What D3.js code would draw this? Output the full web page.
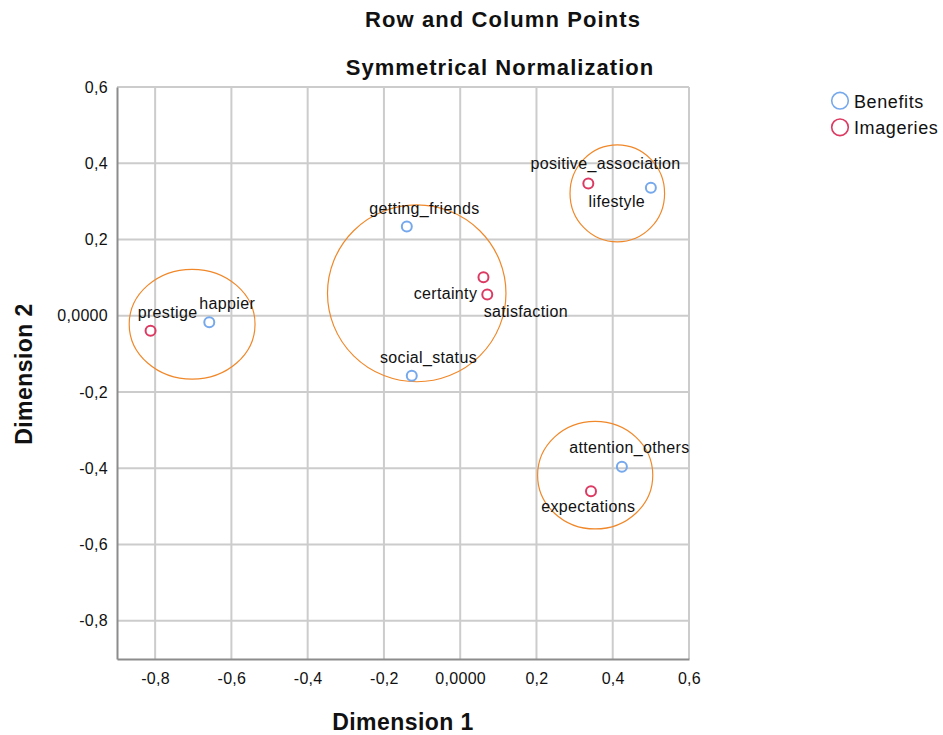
<!DOCTYPE html>
<html>
<head>
<meta charset="utf-8">
<script src="https://cdn.jsdelivr.net/npm/d3@7/dist/d3.min.js"></script>
<style>
  body { margin: 0; background: #fff; }
  text { font-family: "Liberation Sans", Arial, sans-serif; fill: #111; }
</style>
</head>
<body>
<div id="chart"></div>
<script>
// Row points (Benefits)
var benefitNames = ["happier", "getting_friends", "social_status", "attention_others", "lifestyle"];
var benefitX = [-0.658, -0.140, -0.127, 0.424, 0.500];
var benefitY = [-0.017, 0.234, -0.157, -0.396, 0.336];

// Column points (Imageries)
var imageryNames = ["prestige", "certainty", "satisfaction", "positive_association", "expectations"];
var imageryX = [-0.812, 0.061, 0.071, 0.336, 0.343];
var imageryY = [-0.039, 0.101, 0.056, 0.347, -0.460];

// Orange cluster rings drawn over the map
var ringX = [-0.703, -0.114, 0.412, 0.354];
var ringY = [-0.022, 0.059, 0.321, -0.418];
var ringRx = [0.165, 0.234, 0.124, 0.151];
var ringRy = [0.144, 0.232, 0.127, 0.141];

// Tick values on both axes
var tickValues = [-0.8, -0.6, -0.4, -0.2, 0, 0.2, 0.4, 0.6];

// Label offsets in pixels (dx to text centre, dy to baseline)
var benefitLabelOffsets = [[18, -13], [17.6, -12.7], [16.7, -13], [7.5, -13.4], [-34, 19]];
var imageryLabelOffsets = [[17, -13], [-38, 22], [38.5, 22.4], [17.2, -14], [-2.7, 20.7]];

function init() {
    var w = 943;
    var h = 735;
    var blue = "#76a8ec";
    var red = "#dc3a62";

    var svg = d3.select("#chart")
                .append("svg")
                .attr("width", w)
                .attr("height", h);

    // Scales: both dimensions go from -0.9 to 0.6
    var x = d3.scaleLinear().domain([-0.9, 0.6]).range([117, 689]);
    var y = d3.scaleLinear().domain([-0.9, 0.6]).range([659, 87]);

    function fmt(v) {
        if (Math.abs(v) < 1e-9) return "0,0000";
        return v.toFixed(1).replace(".", ",");
    }

    // Grid lines
    var grid = svg.append("g");
    grid.selectAll("line.vx")
        .data(tickValues)
        .enter()
        .append("line")
        .attr("x1", function(d) { return x(d); })
        .attr("x2", function(d) { return x(d); })
        .attr("y1", y(-0.9))
        .attr("y2", y(0.6))
        .attr("stroke", "#cccccc")
        .attr("stroke-width", 2);
    grid.selectAll("line.hy")
        .data(tickValues)
        .enter()
        .append("line")
        .attr("y1", function(d) { return y(d); })
        .attr("y2", function(d) { return y(d); })
        .attr("x1", x(-0.9))
        .attr("x2", x(0.6))
        .attr("stroke", "#cccccc")
        .attr("stroke-width", 2);

    // Axes with hidden ticks, labels only
    var xAxis = d3.axisBottom(x).tickValues(tickValues).tickFormat(fmt).tickSize(0).tickPadding(14);
    var yAxis = d3.axisLeft(y).tickValues(tickValues).tickFormat(fmt).tickSize(0).tickPadding(9);

    var gx = svg.append("g")
                .attr("transform", "translate(0," + y(-0.9) + ")")
                .call(xAxis);
    var gy = svg.append("g")
                .attr("transform", "translate(" + x(-0.9) + ",0)")
                .call(yAxis);

    [gx, gy].forEach(function(g) {
        g.select(".domain").attr("stroke", "#8c8c8c").attr("stroke-width", 2);
        g.selectAll("text")
         .attr("font-family", "Liberation Sans, Arial, sans-serif")
         .attr("font-size", "16px")
         .attr("letter-spacing", "0.3px")
         .attr("fill", "#222");
    });

    // Orange rings
    svg.selectAll("ellipse.ring")
       .data(ringX)
       .enter()
       .append("ellipse")
       .attr("cx", function(d) { return x(d); })
       .attr("cy", function(d, i) { return y(ringY[i]); })
       .attr("rx", function(d, i) { return x(ringRx[i]) - x(0); })
       .attr("ry", function(d, i) { return y(0) - y(ringRy[i]); })
       .attr("fill", "none")
       .attr("stroke", "#f0882a")
       .attr("stroke-width", 1.2);

    // Draw one group of points plus labels
    function drawSeries(names, xs, ys, offsets, color) {
        var g = svg.append("g");
        g.selectAll("circle")
         .data(names)
         .enter()
         .append("circle")
         .attr("cx", function(d, i) { return x(xs[i]); })
         .attr("cy", function(d, i) { return y(ys[i]); })
         .attr("r", 5)
         .attr("fill", "none")
         .attr("stroke", color)
         .attr("stroke-width", 2);
        g.selectAll("text")
         .data(names)
         .enter()
         .append("text")
         .text(function(d) { return d; })
         .attr("x", function(d, i) { return x(xs[i]) + offsets[i][0]; })
         .attr("y", function(d, i) { return y(ys[i]) + offsets[i][1]; })
         .attr("text-anchor", "middle")
         .attr("font-size", "16px")
         .attr("letter-spacing", "0.35px");
    }

    drawSeries(benefitNames, benefitX, benefitY, benefitLabelOffsets, blue);
    drawSeries(imageryNames, imageryX, imageryY, imageryLabelOffsets, red);

    // Titles
    svg.append("text")
       .text("Row and Column Points")
       .attr("x", 503).attr("y", 27)
       .attr("text-anchor", "middle")
       .attr("font-size", "22px")
       .attr("font-weight", "bold")
       .attr("letter-spacing", "1.1px");
    svg.append("text")
       .text("Symmetrical Normalization")
       .attr("x", 500).attr("y", 75)
       .attr("text-anchor", "middle")
       .attr("font-size", "22px")
       .attr("font-weight", "bold")
       .attr("letter-spacing", "1.05px");

    // Axis titles
    svg.append("text")
       .text("Dimension 1")
       .attr("x", 403).attr("y", 730)
       .attr("text-anchor", "middle")
       .attr("font-size", "23px")
       .attr("font-weight", "bold")
       .attr("letter-spacing", "0.45px");
    svg.append("text")
       .text("Dimension 2")
       .attr("transform", "translate(32,374) rotate(-90)")
       .attr("text-anchor", "middle")
       .attr("font-size", "23px")
       .attr("font-weight", "bold")
       .attr("letter-spacing", "0.45px");

    // Legend
    var legend = svg.selectAll("g.legend")
                    .data([["Benefits", blue], ["Imageries", red]])
                    .enter()
                    .append("g")
                    .attr("transform", function(d, i) { return "translate(840," + (100.7 + i * 26.6) + ")"; });
    legend.append("circle")
          .attr("r", 8.3)
          .attr("fill", "none")
          .attr("stroke", function(d) { return d[1]; })
          .attr("stroke-width", 1.6);
    legend.append("text")
          .text(function(d) { return d[0]; })
          .attr("x", 14)
          .attr("y", 7)
          .attr("font-size", "18px")
          .attr("letter-spacing", "0.6px");
}

window.onload = init;
</script>
</body>
</html>
